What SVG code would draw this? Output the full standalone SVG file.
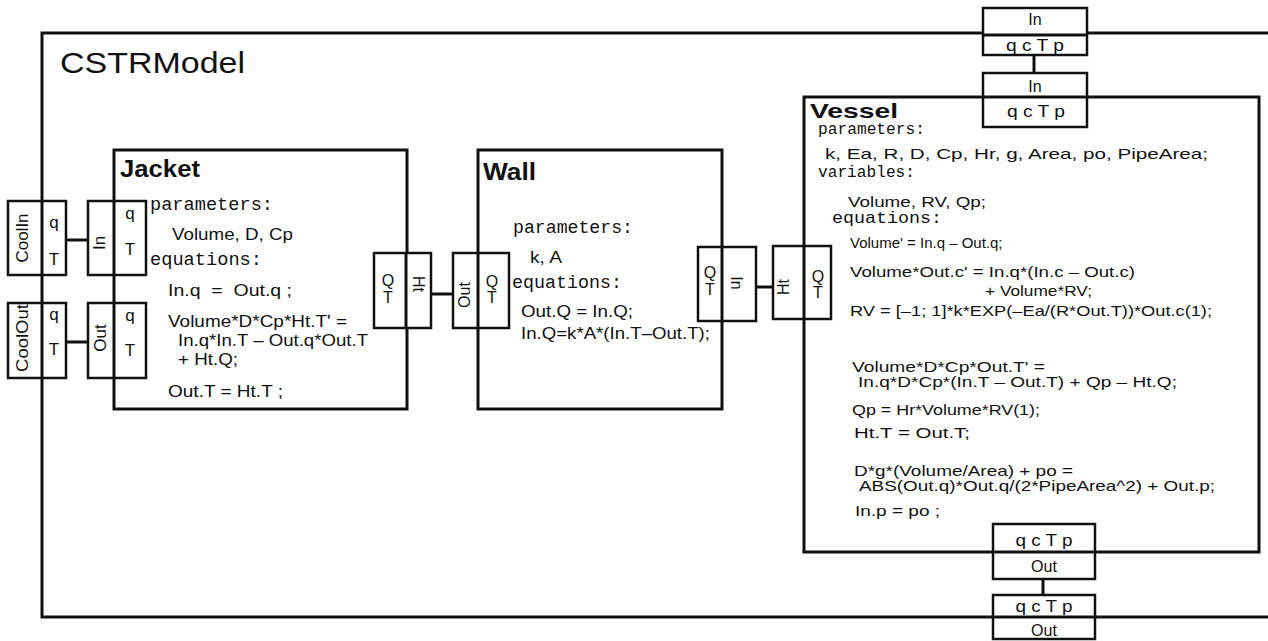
<svg xmlns="http://www.w3.org/2000/svg" width="1268" height="641" viewBox="0 0 1268 641">
<style>
.box{fill:#fff;stroke:#111;stroke-width:3}
.port{fill:#fff;stroke:#111;stroke-width:2.5}
.div{stroke:#111;stroke-width:3;fill:none}
.conn{stroke:#111;stroke-width:3;fill:none}
text{fill:#111}
.s{font-family:"Liberation Sans",Arial,sans-serif;font-size:15px}
.j{font-family:"Liberation Sans",Arial,sans-serif;font-size:16.5px}
.m{font-family:"Liberation Mono","Courier New",monospace}
.t{font-family:"Liberation Sans",Arial,sans-serif;font-weight:bold;font-size:23px}
.p{font-family:"Liberation Sans",Arial,sans-serif;font-size:16px;text-anchor:middle}
.pre{white-space:pre}
</style>
<g id="CSTRModel">
<path d="M1268,33 H42 V617 H1268" fill="none" stroke="#111" stroke-width="3"/>
<text x="60" y="73" class="s" style="font-size:29px" textLength="185" lengthAdjust="spacingAndGlyphs">CSTRModel</text>
<g id="CoolIn">
<rect class="port" x="8" y="201" width="58" height="74"/>
<line class="div" x1="42" y1="201" x2="42" y2="275"/>
<text class="p" style="font-size:17px" transform="translate(28,238) rotate(-90)">CoolIn</text>
<text class="p" style="font-size:17px" x="54" y="228">q</text>
<text class="p" style="font-size:17px" x="54" y="265">T</text>
</g>
<g id="CoolOut">
<rect class="port" x="8" y="303" width="58" height="75"/>
<line class="div" x1="42" y1="303" x2="42" y2="378"/>
<text class="p" style="font-size:17px" transform="translate(28,338) rotate(-90)" textLength="68" lengthAdjust="spacingAndGlyphs">CoolOut</text>
<text class="p" style="font-size:17px" x="54" y="320">q</text>
<text class="p" style="font-size:17px" x="54" y="355">T</text>
</g>
<g id="CSTR_In">
<rect class="port" x="983" y="8" width="104" height="47"/>
<line class="div" x1="983" y1="35" x2="1087" y2="35"/>
<text class="p" x="1035" y="25">In</text>
<text class="p" x="1035" y="51" textLength="58" lengthAdjust="spacingAndGlyphs">q c T p</text>
</g>
<g id="CSTR_Out">
<rect class="port" x="993" y="595" width="102" height="44"/>
<line class="div" x1="993" y1="617" x2="1095" y2="617"/>
<text class="p" x="1044" y="612" textLength="57" lengthAdjust="spacingAndGlyphs">q c T p</text>
<text class="p" x="1044" y="636">Out</text>
</g>
</g>
<g id="Jacket">
<rect class="box" x="114" y="150" width="293" height="259"/>
<text class="t" x="120" y="177" textLength="80" lengthAdjust="spacingAndGlyphs">Jacket</text>
<text class="m" x="150" y="210" style="font-size:18.5px" textLength="123" lengthAdjust="spacingAndGlyphs">parameters:</text>
<text class="j" x="172" y="240" textLength="121" lengthAdjust="spacingAndGlyphs">Volume, D, Cp</text>
<text class="m" x="150" y="265" style="font-size:18.5px" textLength="112" lengthAdjust="spacingAndGlyphs">equations:</text>
<text class="j pre" x="168" y="296" textLength="124" lengthAdjust="spacingAndGlyphs">In.q  =  Out.q ;</text>
<text class="j" x="168" y="327" textLength="179" lengthAdjust="spacingAndGlyphs">Volume*D*Cp*Ht.T' =</text>
<text class="j" x="178" y="346" textLength="190" lengthAdjust="spacingAndGlyphs">In.q*In.T – Out.q*Out.T</text>
<text class="j" x="178" y="365" textLength="60" lengthAdjust="spacingAndGlyphs">+ Ht.Q;</text>
<text class="j" x="168" y="397" textLength="115" lengthAdjust="spacingAndGlyphs">Out.T = Ht.T ;</text>
<g id="Jacket_In">
<rect class="port" x="88" y="201" width="58" height="74"/>
<line class="div" x1="114" y1="201" x2="114" y2="275"/>
<text class="p" style="font-size:17px" transform="translate(105,243) rotate(-90)">In</text>
<text class="p" style="font-size:17px" x="130" y="219">q</text>
<text class="p" style="font-size:17px" x="130" y="255">T</text>
</g>
<g id="Jacket_Out">
<rect class="port" x="88" y="303" width="58" height="75"/>
<line class="div" x1="114" y1="303" x2="114" y2="378"/>
<text class="p" style="font-size:17px" transform="translate(106,338) rotate(-90)">Out</text>
<text class="p" style="font-size:17px" x="130" y="321">q</text>
<text class="p" style="font-size:17px" x="130" y="356">T</text>
</g>
<g id="Jacket_Ht">
<rect class="port" x="374" y="253" width="57" height="75"/>
<line class="div" x1="406" y1="253" x2="406" y2="328"/>
<text class="p" x="388" y="286">Q</text>
<text class="p" x="388" y="303">T</text>
<text class="p" transform="translate(413,284) rotate(90)">Ht</text>
</g>
</g>
<g id="Wall">
<rect class="box" x="478" y="150" width="244" height="259"/>
<text class="t" x="483" y="180" textLength="53" lengthAdjust="spacingAndGlyphs">Wall</text>
<text class="m" x="513" y="233" style="font-size:18px" textLength="120" lengthAdjust="spacingAndGlyphs">parameters:</text>
<text class="j" x="530" y="263" textLength="32" lengthAdjust="spacingAndGlyphs">k, A</text>
<text class="m" x="512" y="288" style="font-size:18px" textLength="110" lengthAdjust="spacingAndGlyphs">equations:</text>
<text class="j" x="521" y="317" textLength="112" lengthAdjust="spacingAndGlyphs">Out.Q = In.Q;</text>
<text class="j" x="521" y="339" textLength="189" lengthAdjust="spacingAndGlyphs">In.Q=k*A*(In.T–Out.T);</text>
<g id="Wall_Out">
<rect class="port" x="453" y="253" width="56" height="75"/>
<line class="div" x1="478" y1="253" x2="478" y2="328"/>
<text class="p" transform="translate(470,295) rotate(-90)">Out</text>
<text class="p" x="492" y="287">Q</text>
<text class="p" x="492" y="303">T</text>
</g>
<g id="Wall_In">
<rect class="port" x="698" y="247" width="58" height="74"/>
<line class="div" x1="722" y1="247" x2="722" y2="321"/>
<text class="p" x="710" y="278">Q</text>
<text class="p" x="710" y="295">T</text>
<text class="p" transform="translate(731,283) rotate(90)">In</text>
</g>
</g>
<g id="Vessel">
<rect class="box" x="804" y="97" width="455" height="455"/>
<text class="t" x="810" y="118" style="font-size:21px" textLength="88" lengthAdjust="spacingAndGlyphs">Vessel</text>
<text class="m" x="818" y="134" style="font-size:16px" textLength="107" lengthAdjust="spacingAndGlyphs">parameters:</text>
<text class="s" x="825" y="159" textLength="383" lengthAdjust="spacingAndGlyphs">k, Ea, R, D, Cp, Hr, g, Area, po, PipeArea;</text>
<text class="m" x="818" y="177" style="font-size:16px" textLength="97" lengthAdjust="spacingAndGlyphs">variables:</text>
<text class="s" x="848" y="207" textLength="138" lengthAdjust="spacingAndGlyphs">Volume, RV, Qp;</text>
<text class="m" x="832" y="223" style="font-size:17px" textLength="110" lengthAdjust="spacingAndGlyphs">equations:</text>
<text class="s" x="850" y="248">Volume' = In.q – Out.q;</text>
<text class="s" x="850" y="277" textLength="285" lengthAdjust="spacingAndGlyphs">Volume*Out.c' = In.q*(In.c – Out.c)</text>
<text class="s" x="985" y="296" textLength="107" lengthAdjust="spacingAndGlyphs">+ Volume*RV;</text>
<text class="s" x="850" y="316" textLength="362" lengthAdjust="spacingAndGlyphs">RV = [–1; 1]*k*EXP(–Ea/(R*Out.T))*Out.c(1);</text>
<text class="s" x="852" y="372" textLength="193" lengthAdjust="spacingAndGlyphs">Volume*D*Cp*Out.T' =</text>
<text class="s" x="858" y="387" textLength="319" lengthAdjust="spacingAndGlyphs">In.q*D*Cp*(In.T – Out.T) + Qp – Ht.Q;</text>
<text class="s" x="852" y="415" textLength="188" lengthAdjust="spacingAndGlyphs">Qp = Hr*Volume*RV(1);</text>
<text class="s" x="854" y="438" textLength="116" lengthAdjust="spacingAndGlyphs">Ht.T = Out.T;</text>
<text class="s" x="854" y="476" textLength="219" lengthAdjust="spacingAndGlyphs">D*g*(Volume/Area) + po =</text>
<text class="s" x="859" y="491" textLength="356" lengthAdjust="spacingAndGlyphs">ABS(Out.q)*Out.q/(2*PipeArea^2) + Out.p;</text>
<text class="s" x="855" y="516" textLength="85" lengthAdjust="spacingAndGlyphs">In.p = po ;</text>
<g id="Vessel_Ht">
<rect class="port" x="773" y="246" width="58" height="73"/>
<line class="div" x1="804" y1="246" x2="804" y2="319"/>
<text class="p" transform="translate(789,287) rotate(-90)">Ht</text>
<text class="p" x="818" y="282">Q</text>
<text class="p" x="818" y="298">T</text>
</g>
<g id="Vessel_In">
<rect class="port" x="983" y="73" width="104" height="54"/>
<line class="div" x1="983" y1="97" x2="1087" y2="97"/>
<text class="p" x="1035" y="92">In</text>
<text class="p" x="1036" y="117" textLength="58" lengthAdjust="spacingAndGlyphs">q c T p</text>
</g>
<g id="Vessel_Out">
<rect class="port" x="993" y="524" width="102" height="55"/>
<line class="div" x1="993" y1="552" x2="1095" y2="552"/>
<text class="p" x="1044" y="546" textLength="57" lengthAdjust="spacingAndGlyphs">q c T p</text>
<text class="p" x="1044" y="572">Out</text>
</g>
</g>
<g id="connectors">
<line class="conn" x1="66" y1="240" x2="88" y2="240"/>
<line class="conn" x1="66" y1="342" x2="88" y2="342"/>
<line class="conn" x1="431" y1="294" x2="453" y2="294"/>
<line class="conn" x1="756" y1="287" x2="773" y2="287"/>
<line class="conn" x1="1034" y1="55" x2="1034" y2="73"/>
<line class="conn" x1="1043" y1="579" x2="1043" y2="595"/>
</g>
</svg>
